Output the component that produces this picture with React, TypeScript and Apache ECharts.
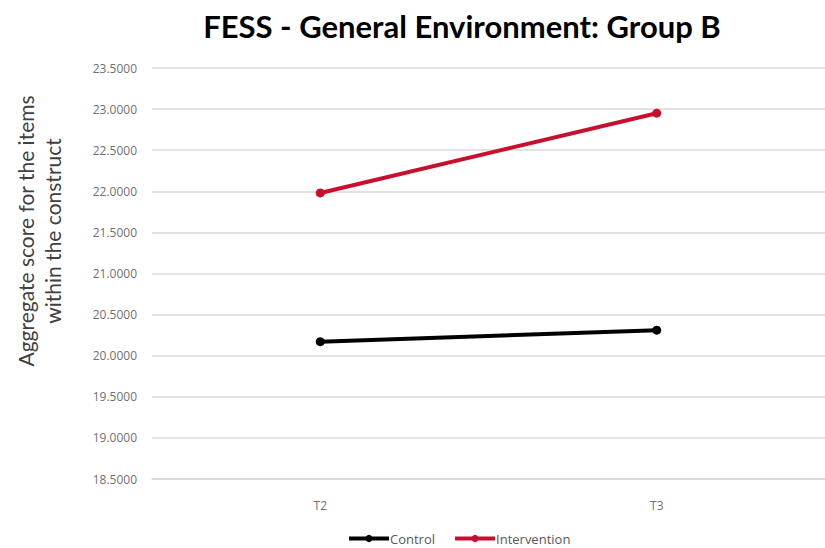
import React, { useEffect, useRef } from "react";
import * as echarts from "echarts";

const categories = ["T2", "T3"];
const controlValues = [20.17, 20.31];
const interventionValues = [21.98, 22.95];
const seriesNames = ["Control", "Intervention"];
const titleText = "FESS - General Environment: Group B";
const yAxisTitle = ["Aggregate score for the items", "within the construct"];

export default function App() {
  const ref = useRef<HTMLDivElement>(null);
  useEffect(() => {
    if (!ref.current) return;
    const chart = echarts.init(ref.current, null, { renderer: "svg" });
    chart.setOption({
      animation: false,
      backgroundColor: "#ffffff",
      title: {
        text: titleText,
        left: 457,
        top: 5,
        textAlign: "center",
        textStyle: {
          fontFamily: "Lato",
          fontWeight: "bold",
          fontSize: 31,
          color: "#000000",
        },
      },
      grid: { left: 152, right: 0, top: 68, bottom: 69, containLabel: false },
      legend: {
        data: seriesNames,
        top: 527,
        left: 342,
        itemWidth: 40,
        itemHeight: 9,
        itemGap: 18,
        lineStyle: { width: 4 },
        textStyle: { color: "#595959", fontSize: 13, fontFamily: "Open Sans", padding: [0, 0, 0, -4] },
      },
      graphic: [
        {
          type: "text",
          x: 39,
          y: 231,
          rotation: Math.PI / 2,
          style: {
            text: yAxisTitle.join("\n"),
            fontFamily: "Lato",
            fontSize: 21,
            lineHeight: 27,
            fill: "#404040",
            align: "center",
            verticalAlign: "middle",
          },
        },
      ],
      xAxis: {
        type: "category",
        data: categories,
        boundaryGap: true,
        axisLine: { show: true, lineStyle: { color: "#d9d9d9", width: 1.5 } },
        axisTick: { show: false },
        axisLabel: { color: "#707070", fontSize: 12, margin: 20, fontFamily: "Open Sans" },
        splitLine: { show: false },
      },
      yAxis: {
        type: "value",
        min: 18.5,
        max: 23.5,
        interval: 0.5,
        axisLine: { show: false },
        axisTick: { show: false },
        axisLabel: {
          color: "#707070",
          fontSize: 12,
          margin: 15,
          fontFamily: "Open Sans",
          formatter: (v: number) => v.toFixed(4),
        },
        splitLine: { lineStyle: { color: "#d9d9d9", width: 1.5 } },
      },
      series: [
        {
          name: seriesNames[0],
          type: "line",
          data: controlValues,
          symbol: "circle",
          symbolSize: 9,
          lineStyle: { color: "#000000", width: 4 },
          itemStyle: { color: "#000000" },
        },
        {
          name: seriesNames[1],
          type: "line",
          data: interventionValues,
          symbol: "circle",
          symbolSize: 9,
          lineStyle: { color: "#c8102e", width: 4 },
          itemStyle: { color: "#c8102e" },
        },
      ],
    });
    return () => chart.dispose();
  }, []);
  return (
    <div
      ref={ref}
      style={{ position: "fixed", left: 0, top: 0, width: 825, height: 548 }}
    />
  );
}
